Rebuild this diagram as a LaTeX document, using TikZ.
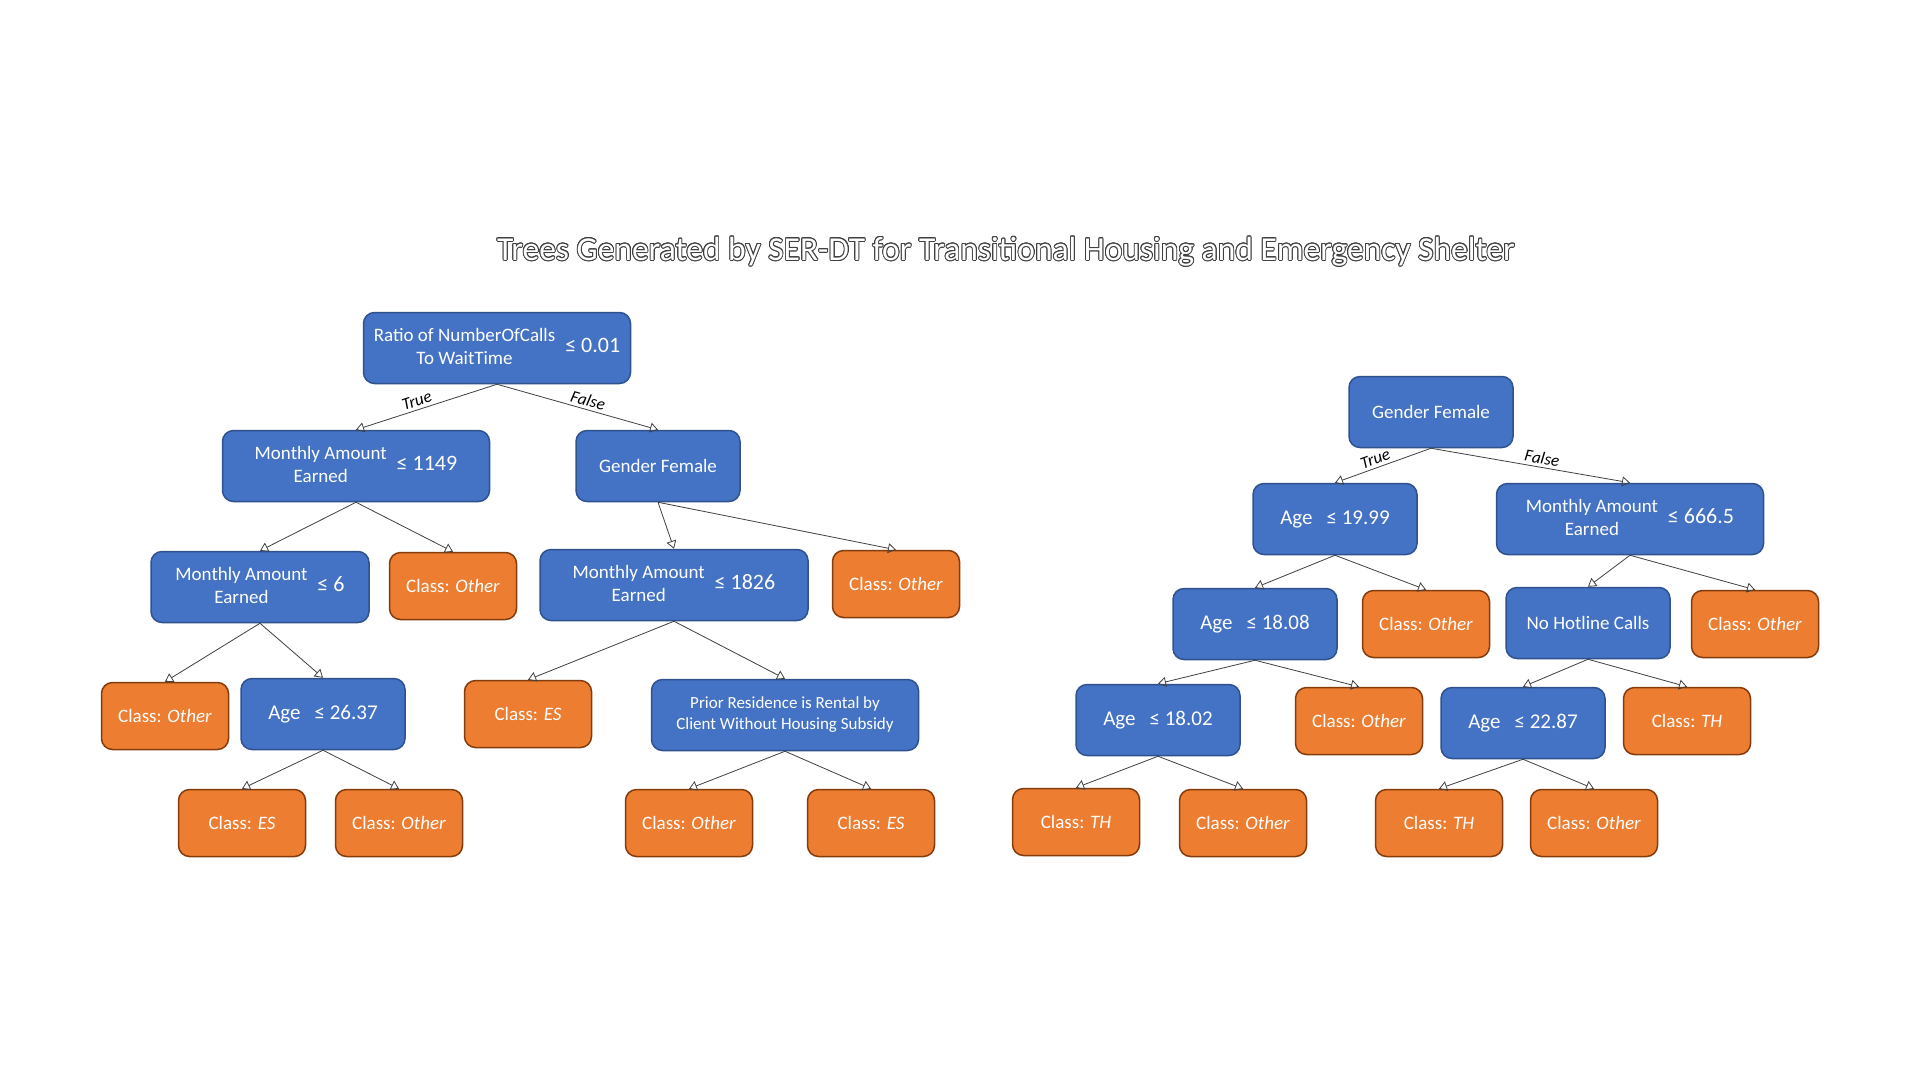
\documentclass[tikz,border=0pt]{standalone}
\usepackage{fontspec}
\setmainfont{Carlito}
\usepackage{contour}
\usetikzlibrary{arrows.meta}
\definecolor{splitblue}{HTML}{4472C4}
\definecolor{splitedge}{HTML}{2F528F}
\definecolor{leaforange}{HTML}{ED7D31}
\definecolor{leafedge}{HTML}{843C0C}
\definecolor{linkgray}{HTML}{404040}
\contourlength{0.9pt}

\newcommand{\cond}[2]{\begin{tabular}{@{}c@{}}#1\end{tabular}\hspace{10pt}{\fontsize{22}{26}\selectfont ≤ #2}}
\newcommand{\agecut}[1]{{\fontsize{21}{25}\selectfont Age\hspace{14pt}≤ #1}}
\newcommand{\cls}[1]{Class: \textit{#1}}

\tikzset{
  split/.style={draw=splitedge, fill=splitblue, line width=1.5pt, rounded corners=11pt,
    text=white, font=\fontsize{19}{23}\selectfont, minimum height=71pt, minimum width=164pt,
    inner sep=2pt, align=center},
  leaf/.style={draw=leafedge, fill=leaforange, line width=1.5pt, rounded corners=11pt,
    text=white, font=\fontsize{19}{23}\selectfont, minimum height=67pt, minimum width=127pt},
  link/.style={draw=linkgray, line width=0.8pt, -{Triangle[open, length=8pt, width=10pt]}},
  branch/.style={sloped, above, pos=0.55, inner sep=3pt, font=\fontsize{17}{19}\selectfont\itshape, text=black}
}

\begin{document}
\begin{tikzpicture}[x=1pt, y=-1pt]
  \fill[white] (0,0) rectangle (1920,1080);
  \useasboundingbox (0,0) rectangle (1920,1080);

  % title
  \node[font=\fontsize{33.5}{38}\selectfont] (title) at (1006,252)
    {\color{white}\contour{black!75}{Trees Generated by SER-DT for Transitional Housing and Emergency Shelter}};

  % left tree
  \node[split, minimum width=267pt] (ratio) at (497,348) {\cond{Ratio of NumberOfCalls\\To WaitTime}{0.01}};
  \node[split, minimum width=267pt] (earnA) at (356,466) {\cond{Monthly Amount\\Earned}{1149}};
  \node[split] (genA) at (658,466) {Gender Female};
  \node[split, minimum width=218pt] (earnB) at (260,587) {\cond{Monthly Amount\\Earned}{6}};
  \node[leaf] (othA) at (453,586) {\cls{Other}};
  \node[split, minimum width=268pt] (earnC) at (674,585) {\cond{Monthly Amount\\Earned}{1826}};
  \node[leaf] (othB) at (896,584) {\cls{Other}};
  \node[leaf] (othC) at (165,716) {\cls{Other}};
  \node[split] (ageA) at (323,714) {\agecut{26.37}};
  \node[leaf] (esA) at (528,714) {\cls{ES}};
  \node[split, minimum width=267pt, font=\fontsize{17}{21}\selectfont] (prior) at (785,715)
    {Prior Residence is Rental by\\Client Without Housing Subsidy};
  \node[leaf] (esB) at (242,823) {\cls{ES}};
  \node[leaf] (othD) at (399,823) {\cls{Other}};
  \node[leaf] (othE) at (689,823) {\cls{Other}};
  \node[leaf] (esC) at (871,823) {\cls{ES}};

  % right tree
  \node[split] (genB) at (1431,412) {Gender Female};
  \node[split] (ageB) at (1335,519) {\agecut{19.99}};
  \node[split, minimum width=267pt] (earnD) at (1630,519) {\cond{Monthly Amount\\Earned}{666.5}};
  \node[split] (ageC) at (1255,624) {\agecut{18.08}};
  \node[leaf] (othF) at (1426,624) {\cls{Other}};
  \node[split] (hotline) at (1588,623) {No Hotline Calls};
  \node[leaf] (othG) at (1755,624) {\cls{Other}};
  \node[split] (ageD) at (1158,720) {\agecut{18.02}};
  \node[leaf] (othH) at (1359,721) {\cls{Other}};
  \node[split] (ageE) at (1523,723) {\agecut{22.87}};
  \node[leaf] (thA) at (1687,721) {\cls{TH}};
  \node[leaf] (thB) at (1076,822) {\cls{TH}};
  \node[leaf] (othI) at (1243,823) {\cls{Other}};
  \node[leaf] (thC) at (1439,823) {\cls{TH}};
  \node[leaf] (othJ) at (1594,823) {\cls{Other}};

  % connectors
  \draw[link] (ratio.south) -- node[branch] {True} (earnA.north);
  \draw[link] (ratio.south) -- node[branch] {False} (genA.north);
  \draw[link] (genB.south) -- node[branch] {True} (ageB.north);
  \draw[link] (genB.south) -- node[branch] {False} (earnD.north);
  \foreach \a/\b in {earnA/earnB, earnA/othA, genA/earnC, genA/othB, earnB/othC, earnB/ageA,
      earnC/esA, earnC/prior, ageA/esB, ageA/othD, prior/othE, prior/esC,
      ageB/ageC, ageB/othF, earnD/hotline, earnD/othG, ageC/ageD, ageC/othH,
      hotline/ageE, hotline/thA, ageD/thB, ageD/othI, ageE/thC, ageE/othJ}
    \draw[link] (\a.south) -- (\b.north);
\end{tikzpicture}
\end{document}
